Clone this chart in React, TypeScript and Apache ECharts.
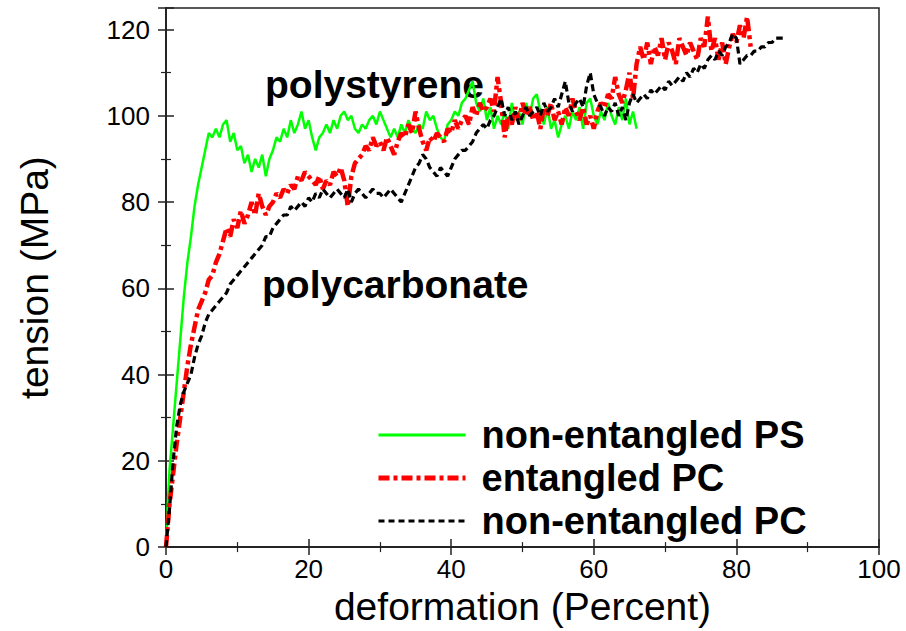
import React, { useEffect, useRef } from "react";
import * as echarts from "echarts";

const xTicks = [0, 20, 40, 60, 80, 100];
const yTicks = [0, 20, 40, 60, 80, 100, 120];
const seriesNames = ["non-entangled PS", "entangled PC", "non-entangled PC"];
const annotations = ["polystyrene", "polycarbonate"];

const psNonEntangled: [number, number][] = [
  [0, 0], [0.25, 10], [0.5, 18], [1, 28], [1.5, 38], [2, 48], [2.5, 58], [3, 66], [3.5, 72], [4, 79],
  [4.5, 84], [5, 88], [5.5, 92], [6, 96], [6.5, 95], [7, 97], [7.5, 95], [8, 98], [8.5, 99], [9, 94],
  [9.5, 96], [10, 92], [10.5, 93], [11, 89], [11.5, 91], [12, 87], [12.5, 90], [13, 88], [13.5, 91], [14, 86],
  [14.5, 90], [15, 92], [15.5, 95], [16, 94], [16.5, 97], [17, 95], [17.5, 99], [18, 96], [18.5, 98], [19, 101],
  [19.5, 97], [20, 99], [20.5, 95], [21, 92], [21.5, 95], [22, 96], [22.5, 98], [23, 96], [23.5, 99], [24, 97],
  [24.5, 100], [25, 101], [25.5, 99], [26, 100], [26.5, 97], [27, 96], [27.5, 98], [28, 97], [28.5, 99], [29, 100],
  [29.5, 98], [30, 101], [30.5, 99], [31, 97], [31.5, 95], [32, 97], [32.5, 95], [33, 98], [33.5, 96], [34, 99],
  [34.5, 97], [35, 96], [35.5, 98], [36, 97], [36.5, 101], [37, 99], [37.5, 100], [38, 97], [38.5, 95], [39, 94],
  [39.5, 98], [40, 99], [40.5, 101], [41, 100], [41.5, 103], [42, 104], [42.5, 106], [43, 108], [43.5, 103], [44, 101],
  [44.5, 104], [45, 99], [45.5, 102], [46, 97], [46.5, 100], [47, 98], [47.5, 101], [48, 97], [48.5, 103], [49, 99],
  [49.5, 101], [50, 98], [50.5, 103], [51, 100], [51.5, 104], [52, 105], [52.5, 101], [53, 98], [53.5, 102], [54, 97],
  [54.5, 99], [55, 95], [55.5, 98], [56, 100], [56.5, 97], [57, 101], [57.5, 99], [58, 102], [58.5, 97], [59, 103],
  [59.5, 104], [60, 100], [60.5, 98], [61, 101], [61.5, 99], [62, 103], [62.5, 100], [63, 98], [63.5, 102], [64, 99],
  [64.5, 104], [65, 98], [65.5, 101], [66, 97],
];

const pcEntangled: [number, number][] = [
  [0, 0], [0.25, 5], [0.5, 10], [1, 17], [1.5, 24], [2, 30], [2.5, 36], [3, 42], [3.5, 47], [4, 51],
  [4.5, 55], [5, 57], [5.5, 59], [6, 62], [6.5, 63], [7, 66], [7.5, 68], [8, 71], [8.5, 74], [9, 72],
  [9.5, 76], [10, 74], [10.5, 78], [11, 75], [11.5, 77], [12, 80], [12.5, 77], [13, 82], [13.5, 79], [14, 77],
  [14.5, 79], [15, 80], [15.5, 82], [16, 81], [16.5, 83], [17, 82], [17.5, 84], [18, 83], [18.5, 86], [19, 85],
  [19.5, 87], [20, 86], [20.5, 85], [21, 84], [21.5, 86], [22, 83], [22.5, 85], [23, 84], [23.5, 87], [24, 86],
  [24.5, 88], [25, 85], [25.5, 79], [26, 86], [26.5, 89], [27, 90], [27.5, 91], [28, 93], [28.5, 92], [29, 95],
  [29.5, 93], [30, 94], [30.5, 92], [31, 95], [31.5, 93], [32, 91], [32.5, 94], [33, 96], [33.5, 95], [34, 98],
  [34.5, 96], [35, 101], [35.5, 97], [36, 94], [36.5, 92], [37, 95], [37.5, 94], [38, 96], [38.5, 95], [39, 94],
  [39.5, 97], [40, 96], [40.5, 99], [41, 97], [41.5, 99], [42, 100], [42.5, 98], [43, 102], [43.5, 100], [44, 103],
  [44.5, 101], [45, 102], [45.5, 104], [46, 101], [46.5, 109], [47, 103], [47.5, 95], [48, 100], [48.5, 98], [49, 102],
  [49.5, 99], [50, 103], [50.5, 100], [51, 102], [51.5, 99], [52, 101], [52.5, 97], [53, 102], [53.5, 100], [54, 103],
  [54.5, 99], [55, 101], [55.5, 98], [56, 102], [56.5, 100], [57, 104], [57.5, 101], [58, 99], [58.5, 102], [59, 98],
  [59.5, 100], [60, 97], [60.5, 101], [61, 103], [61.5, 102], [62, 105], [62.5, 104], [63, 109], [63.5, 105], [64, 103],
  [64.5, 106], [65, 110], [65.5, 104], [66, 112], [66.5, 116], [67, 113], [67.5, 117], [68, 112], [68.5, 116], [69, 114],
  [69.5, 118], [70, 113], [70.5, 117], [71, 115], [71.5, 112], [72, 118], [72.5, 116], [73, 114], [73.5, 117], [74, 115],
  [74.5, 113], [75, 118], [75.5, 116], [76, 123], [76.5, 115], [77, 118], [77.5, 113], [78, 117], [78.5, 112], [79, 116],
  [79.5, 119], [80, 117], [80.5, 121], [81, 118], [81.5, 123], [82, 116],
];

const pcNonEntangled: [number, number][] = [
  [0, 0], [0.5, 9], [1, 20], [1.5, 28], [2, 33], [2.5, 36], [3, 38], [3.5, 40], [4, 44], [4.5, 47],
  [5, 49], [5.5, 52], [6, 54], [6.5, 55], [7, 56], [7.5, 57], [8, 58], [8.5, 59], [9, 61], [9.5, 62],
  [10, 63], [10.5, 64], [11, 65], [11.5, 66], [12, 67], [12.5, 68], [13, 69], [13.5, 70], [14, 72], [14.5, 72],
  [15, 74], [15.5, 75], [16, 76], [16.5, 77], [17, 77], [17.5, 79], [18, 78], [18.5, 79], [19, 80], [19.5, 79],
  [20, 81], [20.5, 80], [21, 82], [21.5, 81], [22, 83], [22.5, 82], [23, 81], [23.5, 82], [24, 83], [24.5, 82],
  [25, 81], [25.5, 83], [26, 80], [26.5, 82], [27, 83], [27.5, 82], [28, 81], [28.5, 82], [29, 83], [29.5, 82],
  [30, 82], [30.5, 81], [31, 82], [31.5, 83], [32, 82], [32.5, 81], [33, 80], [33.5, 82], [34, 84], [34.5, 86],
  [35, 88], [35.5, 89], [36, 91], [36.5, 90], [37, 88], [37.5, 87], [38, 86], [38.5, 88], [39, 87], [39.5, 86],
  [40, 88], [40.5, 90], [41, 91], [41.5, 92], [42, 92], [42.5, 93], [43, 94], [43.5, 96], [44, 97], [44.5, 98],
  [45, 97], [45.5, 99], [46, 100], [46.5, 102], [47, 104], [47.5, 100], [48, 102], [48.5, 99], [49, 101], [49.5, 98],
  [50, 100], [50.5, 102], [51, 100], [51.5, 101], [52, 102], [52.5, 100], [53, 103], [53.5, 101], [54, 102], [54.5, 104],
  [55, 102], [55.5, 105], [56, 108], [56.5, 103], [57, 101], [57.5, 103], [58, 104], [58.5, 102], [59, 107], [59.5, 110],
  [60, 105], [60.5, 103], [61, 102], [61.5, 100], [62, 102], [62.5, 101], [63, 103], [63.5, 100], [64, 102], [64.5, 99],
  [65, 103], [65.5, 105], [66, 103], [66.5, 104], [67, 105], [67.5, 104], [68, 106], [68.5, 105], [69, 106], [69.5, 107],
  [70, 106], [70.5, 108], [71, 107], [71.5, 108], [72, 109], [72.5, 108], [73, 110], [73.5, 109], [74, 111], [74.5, 110],
  [75, 112], [75.5, 111], [76, 113], [76.5, 114], [77, 113], [77.5, 115], [78, 114], [78.5, 116], [79, 117], [79.5, 119],
  [80, 118], [80.5, 112], [81, 113], [81.5, 114], [82, 114], [82.5, 115], [83, 115], [83.5, 116], [84, 116], [84.5, 117],
  [85, 117], [85.5, 118], [86, 118], [86.5, 118],
];

const FONT = "'Liberation Sans', Arial, Helvetica, sans-serif";

export default function App() {
  const ref = useRef<HTMLDivElement>(null);
  useEffect(() => {
    if (!ref.current) return;
    const chart = echarts.init(ref.current, undefined, { renderer: "svg" });
    const axisLine = { show: true, lineStyle: { color: "#222", width: 1.5 } };
    const axisTick = { show: true, inside: true, length: 8, lineStyle: { color: "#222", width: 1.5 } };
    const minorTick = { show: true, splitNumber: 2, length: 5, lineStyle: { color: "#222", width: 1.2 } };
    const labelX = { show: true, fontFamily: FONT, fontSize: 26, color: "#000", margin: 9 };
    const labelY = {
      show: true, fontFamily: FONT, fontSize: 26, color: "#000", margin: 16,
      formatter: (v: number) => (yTicks.includes(v) ? String(v) : ""),
    };
    const option: any = {
      animation: false,
      backgroundColor: "#fff",
      grid: { left: 166, right: 27, top: 8, bottom: 83, show: true, borderColor: "#222", borderWidth: 1.5 },
      xAxis: [
        {
          type: "value", min: xTicks[0], max: xTicks[xTicks.length - 1], interval: 20,
          axisLine, axisTick, minorTick, splitLine: { show: false }, axisLabel: labelX,
          name: "deformation (Percent)", nameLocation: "middle", nameGap: 36,
          nameTextStyle: { fontFamily: FONT, fontSize: 39, color: "#000" },
        },
        {
          type: "value", position: "top", min: 0, max: 100, interval: 20,
          axisLine, axisTick, minorTick, splitLine: { show: false }, axisLabel: { show: false },
        },
      ],
      yAxis: [
        {
          type: "value", min: 0, max: 125, interval: 20,
          axisLine, axisTick, minorTick, splitLine: { show: false }, axisLabel: labelY,
          name: "tension (MPa)", nameLocation: "middle", nameGap: 112,
          nameTextStyle: { fontFamily: FONT, fontSize: 39, color: "#000" },
        },
        {
          type: "value", position: "right", min: 0, max: 125, interval: 20,
          axisLine, axisTick, minorTick, splitLine: { show: false }, axisLabel: { show: false },
        },
      ],
      legend: {
        orient: "vertical", left: 376, top: 416, padding: 0, itemWidth: 87, itemHeight: 14, itemGap: 5,
        itemStyle: { opacity: 0 },
        textStyle: { fontFamily: FONT, fontSize: 38, fontWeight: "bold", color: "#000", lineHeight: 38, padding: [0, 0, 0, 11] },
        data: [
          { name: seriesNames[0], lineStyle: { width: 3, type: "solid", color: "#00ff00" } },
          { name: seriesNames[1], lineStyle: { width: 5, type: [11, 4, 4, 4], color: "#ff0000" } },
          { name: seriesNames[2], lineStyle: { width: 3, type: [6, 4], color: "#000000" } },
        ],
      },
      series: [
        {
          name: seriesNames[0], type: "line", data: psNonEntangled, symbol: "none", z: 3,
          lineStyle: { color: "#00ff00", width: 2.5, type: "solid" }, itemStyle: { color: "#00ff00" },
        },
        {
          name: seriesNames[1], type: "line", data: pcEntangled, symbol: "none", z: 4,
          lineStyle: { color: "#ff0000", width: 4.5, type: [12, 4, 4, 4] }, itemStyle: { color: "#ff0000" },
        },
        {
          name: seriesNames[2], type: "line", data: pcNonEntangled, symbol: "none", z: 5,
          lineStyle: { color: "#000000", width: 3.2, type: [7, 4] }, itemStyle: { color: "#000000" },
        },
      ],
      graphic: [
        {
          type: "text", left: 265, top: 65,
          style: { text: annotations[0], fontFamily: FONT, fontSize: 39, fontWeight: "bold", fill: "#000" },
        },
        {
          type: "text", left: 262, top: 265,
          style: { text: annotations[1], fontFamily: FONT, fontSize: 39, fontWeight: "bold", fill: "#000" },
        },
      ],
    };
    chart.setOption(option);
    return () => chart.dispose();
  }, []);
  return (
    <div
      ref={ref}
      style={{ position: "fixed", left: 0, top: 0, width: 906, height: 631, background: "#fff" }}
    />
  );
}
